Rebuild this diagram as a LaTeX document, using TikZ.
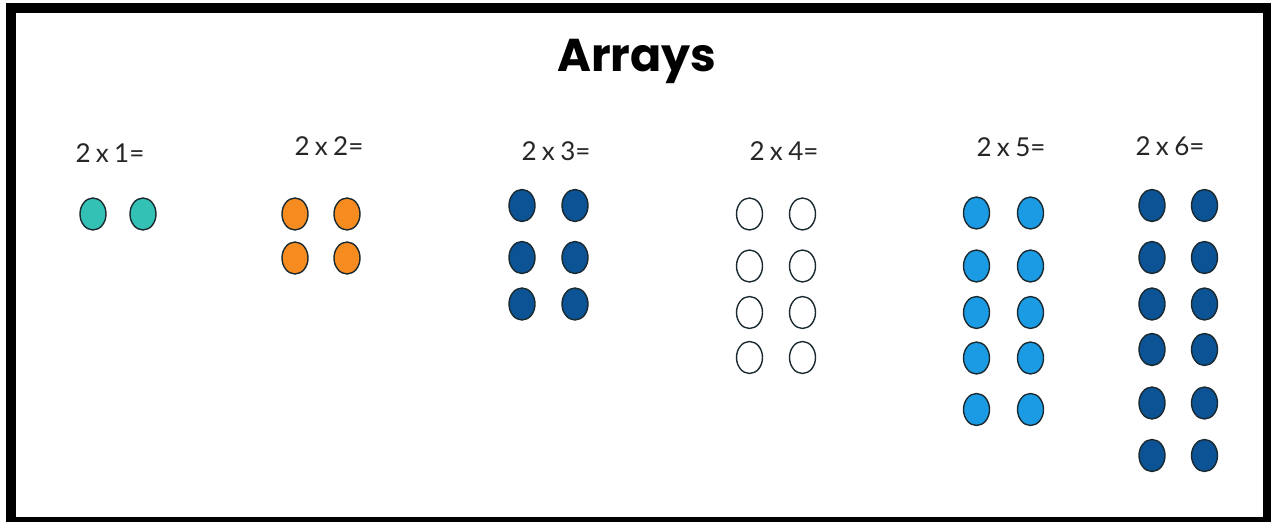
\documentclass[tikz,border=0pt]{standalone}
\usepackage{fontspec}
\setmainfont{Lato}
\newfontfamily\lblfont[WordSpace=0.8]{Lato}
\newfontfamily\titlefont{Poppins}
\usetikzlibrary{shapes.geometric}
\definecolor{dteal}{HTML}{33C1B5}
\definecolor{dorange}{HTML}{F68B1F}
\definecolor{ddark}{HTML}{0B5394}
\definecolor{dlight}{HTML}{1A9BE3}
\definecolor{dline}{HTML}{1A2A30}
\tikzset{
  dot/.style={ellipse, draw=dline, line width=1.4pt, minimum width=26pt, minimum height=32pt, inner sep=0pt},
  lbl/.style={font=\lblfont\fontsize{26}{30}\selectfont, text=black!85, inner sep=0pt},
  ttl/.style={font=\titlefont\bfseries\fontsize{46}{56}\selectfont, inner sep=0pt}
}
\begin{document}
\begin{tikzpicture}[x=1pt,y=-1pt]
\fill[white] (0,0) rectangle (1271,522);
\useasboundingbox (0,0) rectangle (1271,522);
\fill[black] (6,3) rectangle (1271,522);
\fill[white] (16,13) rectangle (1263,517);
\node[ttl] (title) at (637,61) {Arrays};
% labels
\node[lbl] (l1) at (110,153) {2 x 1=};
\node[lbl] (l2) at (329,146) {2 x 2=};
\node[lbl] (l3) at (556,151) {2 x 3=};
\node[lbl] (l4) at (784,151) {2 x 4=};
\node[lbl] (l5) at (1011,147) {2 x 5=};
\node[lbl] (l6) at (1170,146) {2 x 6=};
% 2 x 1
\foreach \y [count=\r] in {214} {
  \node[dot, fill=dteal] (a1-\r) at (93,\y) {};
  \node[dot, fill=dteal] (b1-\r) at (143,\y) {};
}
% 2 x 2
\foreach \y [count=\r] in {214,258} {
  \node[dot, fill=dorange] (a2-\r) at (295,\y) {};
  \node[dot, fill=dorange] (b2-\r) at (347,\y) {};
}
% 2 x 3
\foreach \y [count=\r] in {205.5,257.5,304} {
  \node[dot, fill=ddark] (a3-\r) at (522,\y) {};
  \node[dot, fill=ddark] (b3-\r) at (575,\y) {};
}
% 2 x 4
\foreach \y [count=\r] in {214,266,312.5,357.5} {
  \node[dot, fill=white] (a4-\r) at (749.5,\y) {};
  \node[dot, fill=white] (b4-\r) at (802.5,\y) {};
}
% 2 x 5
\foreach \y [count=\r] in {213,266,312.5,358,409.5} {
  \node[dot, fill=dlight] (a5-\r) at (976.5,\y) {};
  \node[dot, fill=dlight] (b5-\r) at (1030.5,\y) {};
}
% 2 x 6
\foreach \y [count=\r] in {205.5,257.5,304,349.5,403,455.5} {
  \node[dot, fill=ddark] (a6-\r) at (1152,\y) {};
  \node[dot, fill=ddark] (b6-\r) at (1204.5,\y) {};
}
\end{tikzpicture}
\end{document}
